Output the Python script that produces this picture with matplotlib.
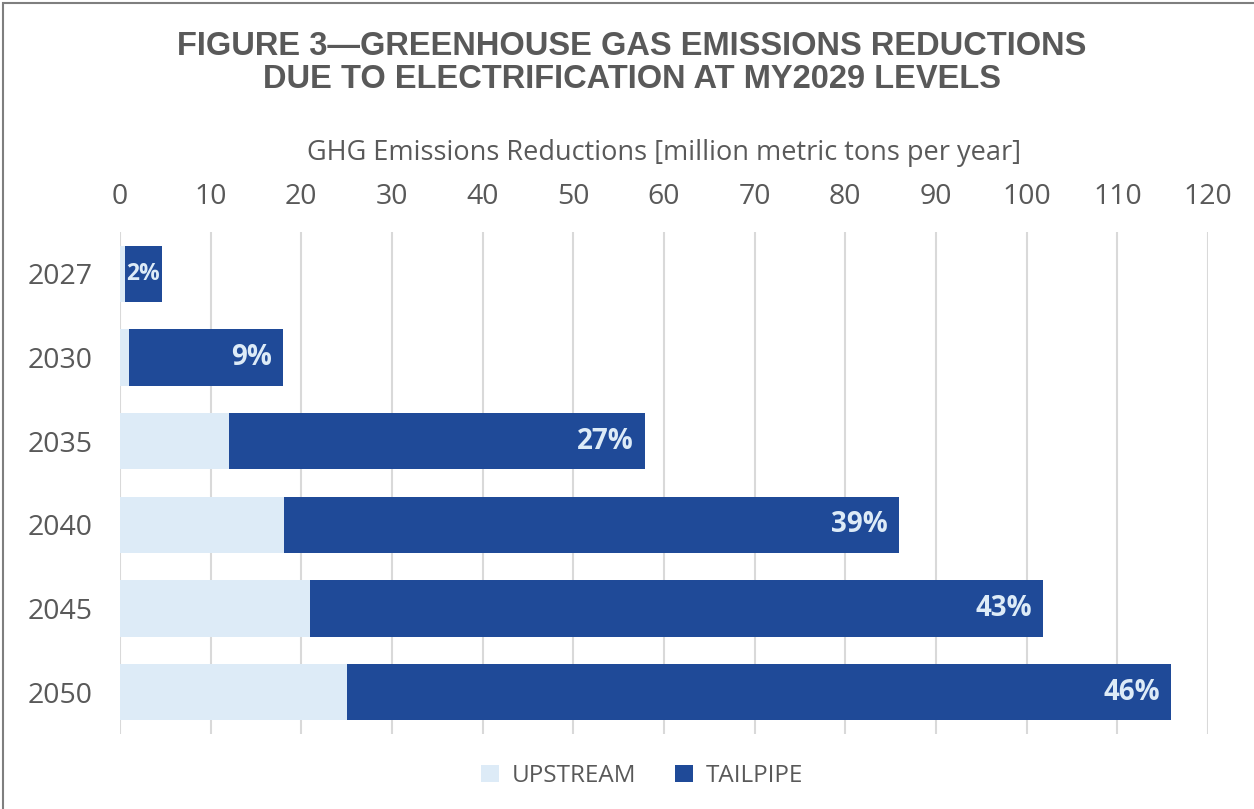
import matplotlib
matplotlib.use("Agg")
import matplotlib.pyplot as plt
from matplotlib.patches import Rectangle

years = ["2027", "2030", "2035", "2040", "2045", "2050"]
upstream = [0.5, 1.0, 12.0, 18.1, 21.0, 25.0]
tailpipe = [4.1, 17.0, 45.9, 67.8, 80.8, 90.9]
pct_labels = ["2%", "9%", "27%", "39%", "43%", "46%"]
xticks = [0, 10, 20, 30, 40, 50, 60, 70, 80, 90, 100, 110, 120]

DARK = "#1F4A98"
LIGHT = "#DDEBF7"
GRAY = "#595959"
BODY = ["Open Sans", "DejaVu Sans"]

W, H = 12.54, 8.09
fig = plt.figure(figsize=(W, H), dpi=100)
fig.patch.set_facecolor("white")

# outer frame (cut at right/bottom in reference)
fig.patches.append(Rectangle((3 / 1254, -0.1), 1.2, 1.1 - 3 / 809,
                             transform=fig.transFigure, fill=False,
                             edgecolor="#7f7f7f", linewidth=1.5))

ax = fig.add_axes([120 / 1254, 1 - 734 / 809, (1208 - 120) / 1254, (734 - 232) / 809])
y = list(range(len(years)))
ax.barh(y, upstream, height=0.67, color=LIGHT, label="UPSTREAM", zorder=3)
bars = ax.barh(y, tailpipe, left=upstream, height=0.67, color=DARK, label="TAILPIPE", zorder=3)

for i, (b, t) in enumerate(zip(bars, pct_labels)):
    end = upstream[i] + tailpipe[i]
    if i == 0:
        ax.text(upstream[i] + tailpipe[i] / 2, i, t, ha="center", va="center",
                color=LIGHT, fontsize=16.5, fontweight="bold", family=BODY, zorder=4)
    else:
        ax.text(end - 1.2, i, t, ha="right", va="center", color=LIGHT,
                fontsize=20, fontweight="bold", family=BODY, zorder=4)

ax.set_xlim(0, 120)
ax.set_ylim(5.5, -0.5)
ax.set_xticks(xticks)
ax.set_yticks(y)
ax.set_yticklabels(years)
ax.xaxis.tick_top()
ax.xaxis.set_label_position("top")
ax.tick_params(axis="both", length=0, labelsize=20.5, labelcolor=GRAY)
ax.tick_params(axis="x", pad=15)
ax.tick_params(axis="y", pad=20)
for lab in ax.get_xticklabels() + ax.get_yticklabels():
    lab.set_family(BODY)
ax.set_xlabel("GHG Emissions Reductions [million metric tons per year]",
              fontsize=19.5, color=GRAY, family=BODY, labelpad=17)
ax.grid(axis="x", color="#D9D9D9", linewidth=1.5, zorder=0)
for s in ax.spines.values():
    s.set_visible(False)

fig.text(632 / 1254, 1 - 63 / 809,
         "FIGURE 3\u2014GREENHOUSE GAS EMISSIONS REDUCTIONS\nDUE TO ELECTRIFICATION AT MY2029 LEVELS",
         ha="center", va="center", fontsize=23.5, fontweight="bold", color=GRAY,
         family=["Liberation Sans Narrow", "Liberation Sans", "DejaVu Sans"], linespacing=1.12)

leg = fig.legend(loc="center", bbox_to_anchor=(642 / 1254, 1 - 776 / 809), ncol=2,
                 frameon=False, handlelength=0.75, handleheight=0.75,
                 columnspacing=1.6, handletextpad=0.5,
                 prop={"family": BODY, "size": 17.5})
for t in leg.get_texts():
    t.set_color(GRAY)

fig.savefig("out.png", dpi=100)
